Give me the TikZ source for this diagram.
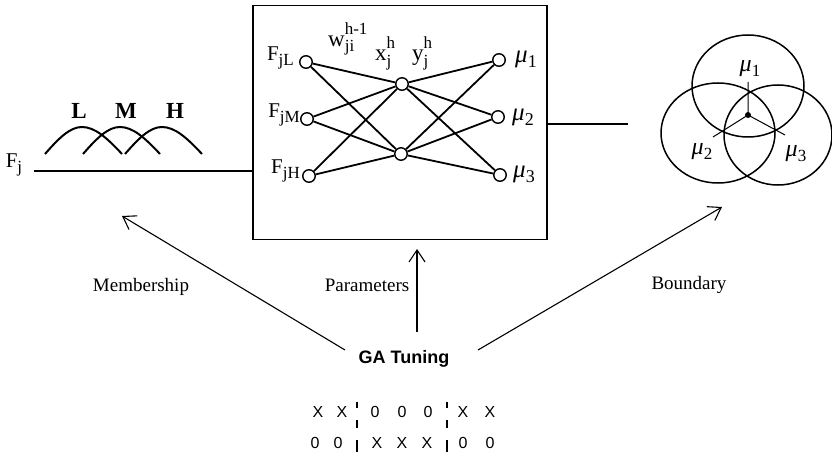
\documentclass[tikz,border=0pt]{standalone}
\usepackage{fontspec}
\setmainfont{Liberation Serif}
\newfontfamily\sansfam{Liberation Sans}
\usetikzlibrary{arrows.meta}
\newcommand{\fsz}[1]{\fontsize{#1}{#1}\selectfont}
\newcommand{\lowr}[3]{\raisebox{#1}{\fsz{#2}#3}}
\begin{document}
\begin{tikzpicture}[x=1pt,y=-1pt,
  neuron/.style={circle,draw,line width=1.4pt,minimum size=12.5pt,inner sep=0pt},
  wire/.style={line width=1.8pt},
  lab/.style={inner sep=0pt,font=\fsz{19}},
  mfun/.style={line width=2pt},
  garrow/.style={line width=1.1pt,-{Straight Barb[length=12pt,width=16pt,line width=1.1pt]}},
  chrom/.style={inner sep=0pt,font=\sansfam\fsz{16}},
  ring/.style={line width=1.5pt}]
\useasboundingbox (0,0) rectangle (832,457);

% main box
\node[draw,line width=1.7pt,minimum width=294pt,minimum height=234pt,inner sep=0pt] (box) at (400,122.5) {};

% neurons
\node[neuron] (iL) at (306,62) {};
\node[neuron] (iM) at (307,119) {};
\node[neuron] (iH) at (309,176) {};
\node[neuron] (h1) at (402,84) {};
\node[neuron] (h2) at (401,154) {};
\node[neuron] (o1) at (499,60) {};
\node[neuron] (o2) at (498,117) {};
\node[neuron] (o3) at (500,175) {};
\foreach \i in {iL,iM,iH} \foreach \h in {h1,h2} \draw[wire] (\i) -- (\h);
\foreach \h in {h1,h2} \foreach \o in {o1,o2,o3} \draw[wire] (\h) -- (\o);

% network labels
\node[lab,anchor=base east,font=\fsz{21}] (lFL) at (294,61) {F\lowr{-5pt}{17}{jL}};
\node[lab,anchor=base east,font=\fsz{21}] (lFM) at (300,118) {F\lowr{-5pt}{17}{jM}};
\node[lab,anchor=base east,font=\fsz{21}] (lFH) at (300,174) {F\lowr{-5pt}{17}{jH}};
\node[lab,anchor=base west,font=\fsz{23}] (lw) at (328,47) {w\rlap{\lowr{-5pt}{17}{ji}}\lowr{12pt}{17}{h-1}};
\node[lab,anchor=base west,font=\fsz{23}] (lx) at (375,61) {x\rlap{\lowr{-6pt}{17}{j}}\lowr{12pt}{17}{h}};
\node[lab,anchor=base west,font=\fsz{23}] (ly) at (412,61) {y\rlap{\lowr{-6pt}{17}{j}}\lowr{12pt}{17}{h}};
\node[lab,anchor=base west,font=\fsz{25}] (lo1) at (515,63) {{\itshape μ}\lowr{-5pt}{18}{1}};
\node[lab,anchor=base west,font=\fsz{25}] (lo2) at (512,121) {{\itshape μ}\lowr{-5pt}{18}{2}};
\node[lab,anchor=base west,font=\fsz{25}] (lo3) at (513,178) {{\itshape μ}\lowr{-5pt}{18}{3}};

% input side
\node[lab,anchor=base,font=\fsz{21}] (fj) at (14,168) {F\lowr{-5pt}{17}{j}};
\coordinate (fjs) at (34,171);
\draw[line width=1.3pt] (fjs) -- (box.west |- fjs);
\foreach \s in {45,83,125}
  \draw[mfun] (\s,154) .. controls (\s+14,138) and (\s+25,127) .. (\s+37,127)
             .. controls (\s+50,127) and (\s+62,138) .. (\s+77,154);
\node[font=\fsz{23}\bfseries,inner sep=0pt] (tL) at (79,111) {L};
\node[font=\fsz{23}\bfseries,inner sep=0pt] (tM) at (126,111) {M};
\node[font=\fsz{23}\bfseries,inner sep=0pt] (tH) at (175,111) {H};

% output side
\coordinate (rl) at (628,124);
\draw[line width=1.3pt] (box.east |- rl) -- (rl);
\draw[ring] (748,86) ellipse [x radius=56pt,y radius=51pt];
\draw[ring] (718,133) ellipse [x radius=57pt,y radius=50pt];
\draw[ring] (778,135) ellipse [x radius=54pt,y radius=50pt];
\coordinate (cdot) at (748,115);
\coordinate (cu) at (748,82);
\coordinate (cl) at (713,137);
\coordinate (cr) at (785,135);
\draw[line width=1pt] (cdot) -- (cu) (cdot) -- (cl) (cdot) -- (cr);
\fill (cdot) circle (3pt);
\node[lab,anchor=base,font=\fsz{24}] (r1) at (750,72) {{\itshape μ}\lowr{-5pt}{17}{1}};
\node[lab,anchor=base,font=\fsz{24}] (r2) at (702,155) {{\itshape μ}\lowr{-5pt}{17}{2}};
\node[lab,anchor=base,font=\fsz{24}] (r3) at (796,157) {{\itshape μ}\lowr{-5pt}{17}{3}};

% GA tuning
\node[inner sep=0pt,font=\sansfam\bfseries\fsz{18}] (ga) at (404,359) {GA Tuning};
\coordinate (mtail) at (345,350);
\coordinate (mtip) at (122,216);
\coordinate (ptail) at (417,332);
\coordinate (ptip) at (417,249);
\coordinate (btail) at (478,350);
\coordinate (btip) at (722,207);
\draw[garrow] (mtail) -- (mtip);
\draw[garrow] (ptail) -- (ptip);
\draw[garrow] (btail) -- (btip);
\node[lab] (tmem) at (141,287) {Membership};
\node[lab] (tpar) at (367,285) {Parameters};
\node[lab] (tbou) at (689,285) {Boundary};

% chromosomes
\foreach \x/\c [count=\k] in {318/X,342/X,375/0,402/0,428/0,463/X,490/X}
  \node[chrom] (ra\k) at (\x,412) {\c};
\foreach \x/\c [count=\k] in {315/0,338/0,377/X,402/X,427/X,463/0,490/0}
  \node[chrom] (rb\k) at (\x,443) {\c};
\foreach \x in {357,447} {
  \draw[line width=1.2pt] (\x,402) -- (\x,408);
  \draw[line width=1.2pt] (\x,420) -- (\x,428);
  \draw[line width=1.2pt] (\x,440) -- (\x,452);
}
\end{tikzpicture}
\end{document}
